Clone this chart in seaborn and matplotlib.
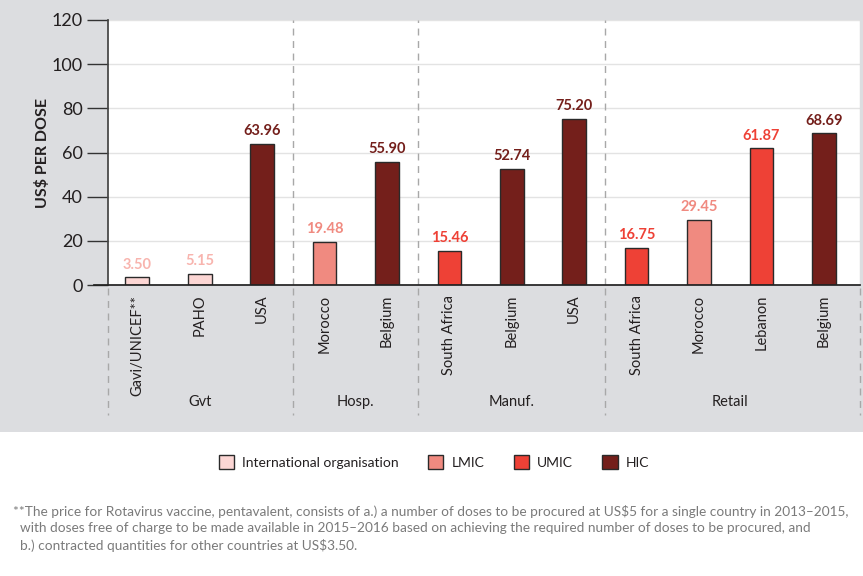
import pandas as pd
import matplotlib.pyplot as plt
import seaborn as sns
from matplotlib.patches import Rectangle

sns.set_theme(style='white')
plt.rcParams['font.family'] = ['Lato', 'DejaVu Sans']

# Datos
countries = ['Gavi/UNICEF**', 'PAHO', 'USA', 'Morocco', 'Belgium', 'South Africa',
             'Belgium', 'USA', 'South Africa', 'Morocco', 'Lebanon', 'Belgium']
prices = [3.50, 5.15, 63.96, 19.48, 55.90, 15.46, 52.74, 75.20, 16.75, 29.45, 61.87, 68.69]
income = ['International organisation', 'International organisation', 'HIC', 'LMIC', 'HIC', 'UMIC',
          'HIC', 'HIC', 'UMIC', 'LMIC', 'UMIC', 'HIC']
sectors = ['Gvt', 'Hosp.', 'Manuf.', 'Retail']
sector_sizes = [3, 2, 3, 4]
income_levels = ['International organisation', 'LMIC', 'UMIC', 'HIC']
footnote = [
    '**The price for Rotavirus vaccine, pentavalent, consists of a.) a number of doses to be procured at US$5 for a single country in 2013\u20132015,',
    'with doses free of charge to be made available in 2015\u20132016 based on achieving the required number of doses to be procured, and',
    'b.) contracted quantities for other countries at US$3.50.',
]

palette = {'International organisation': '#fcd6d4', 'LMIC': '#f08a80',
           'UMIC': '#ee4136', 'HIC': '#741f1b'}
label_colors = {'International organisation': '#f8b4ae', 'LMIC': '#f08a80',
                'UMIC': '#ee4136', 'HIC': '#741f1b'}

df = pd.DataFrame({'pos': range(len(countries)), 'country': countries,
                   'price': prices, 'income': income})

fig = plt.figure(figsize=(8.63, 5.76), dpi=100, facecolor='white')
fig.patches.append(Rectangle((0, 0.25), 1, 0.75, transform=fig.transFigure,
                             facecolor='#dcdde0', edgecolor='none', zorder=-1))

ax = fig.add_axes([108 / 863, 1 - 285 / 576, 752 / 863, 265 / 576])
ax.set_facecolor('white')

sns.barplot(data=df, x='pos', y='price', hue='income', hue_order=income_levels,
            palette=palette, dodge=False, width=0.38, edgecolor='#2a2a2a',
            linewidth=1, saturation=1, ax=ax)

# Etiquetas de valores
for cont, lvl in zip(ax.containers, income_levels):
    ax.bar_label(cont, fmt='%.2f', padding=4, color=label_colors[lvl],
                 fontsize=10.5, fontweight='bold')

ax.set_xlim(-0.47, 11.58)
ax.set_ylim(0, 120)
for s in ['top', 'right']:
    ax.spines[s].set_visible(False)
ax.spines['left'].set_color('#444444')
ax.spines['bottom'].set_color('#222222')
ax.spines['bottom'].set_bounds(-0.7, 11.58)

ax.set_yticks(range(0, 121, 20))
ax.yaxis.grid(True, color='#e3e3e3', linewidth=1)
ax.set_axisbelow(True)
ax.tick_params(axis='y', length=15, width=1, color='#333333', labelsize=13,
               labelcolor='#231f20', left=True, pad=3)
ax.set_xticks(range(len(countries)))
ax.set_xticklabels(countries)
ax.tick_params(axis='x', length=0, labelsize=10.5, labelcolor='#231f20', pad=7,
               labelrotation=90)
ax.set_xlabel('')
ax.set_ylabel('US$ PER DOSE', fontsize=11.5, fontweight='bold', color='#231f20', labelpad=1)
ax.axvline(11.58, color='#d8d8d8', linewidth=1)

# Separadores y nombres de sector
trans = ax.get_xaxis_transform()
bounds = [-0.5]
for n in sector_sizes:
    bounds.append(bounds[-1] + n)
for b in bounds[1:-1]:
    ax.axvline(b, color='#a8a8a8', linestyle=(0, (5, 4)), linewidth=1)
for xb in [-0.47] + bounds[1:-1] + [11.58]:
    ax.plot([xb, xb], [-0.012, -0.49], transform=trans, clip_on=False,
            color='#a8a8a8', linestyle=(0, (5, 4)), linewidth=1)
for name, lo, hi in zip(sectors, bounds[:-1], bounds[1:]):
    ax.text((lo + hi) / 2, -0.442, name, transform=trans, ha='center', va='center',
            fontsize=10.5, color='#231f20')

# Leyenda
handles, labels = ax.get_legend_handles_labels()
ax.get_legend().remove()
fig.legend(handles, labels, loc='center', bbox_to_anchor=(434 / 863, 1 - 462 / 576),
           ncol=4, frameon=False, fontsize=10, handlelength=1.1, handleheight=1.1,
           columnspacing=2.1, handletextpad=0.6, labelcolor='#231f20')

# Nota al pie
fig.text(13 / 863, 1 - 512 / 576, footnote[0], fontsize=9.8, color='#7a7a7a', va='center')
for i, line in enumerate(footnote[1:]):
    fig.text(20 / 863, 1 - (528.5 + 16.5 * i) / 576, line, fontsize=9.8, color='#7a7a7a', va='center')

fig.savefig('out.png', dpi=100, facecolor=fig.get_facecolor())
